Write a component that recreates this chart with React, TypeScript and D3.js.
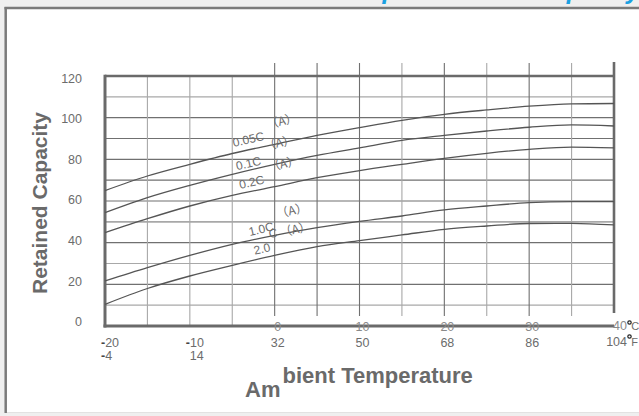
import React from "react";
import * as d3 from "d3";

const temps = [-20, -15, -10, -5, 0, 5, 10, 15, 20, 25, 30, 35, 40];
const c005 = [65, 72, 77.6, 82.8, 87.2, 91.5, 95.2, 98.7, 101.6, 103.7, 105.5, 106.6, 106.8];
const c01 = [54.4, 61.6, 67.5, 72.8, 77.6, 81.9, 85.5, 89.1, 91.5, 93.6, 95.4, 96.5, 96.0];
const c02 = [44.8, 51.5, 57.6, 62.7, 66.9, 71.2, 74.6, 77.6, 80.5, 82.9, 84.8, 85.9, 85.5];
const c10 = [21.6, 28.0, 33.9, 39.2, 43.5, 47.2, 50.2, 52.8, 55.7, 57.6, 59.2, 59.7, 59.7];
const c20 = [10.4, 18.0, 24.0, 29.1, 33.9, 38.1, 41.0, 43.7, 46.4, 48.0, 49.2, 49.3, 48.5];
const seriesList = [c005, c01, c02, c10, c20];

const yTicks = [0, 20, 40, 60, 80, 100, 120];
const hGrid = [10, 20, 30, 40, 50, 60, 70, 80, 90, 100, 110];
const vGrid = [-15, -10, -5, 0, 5, 10, 15, 20, 25, 30, 35];
const celsiusLabels = [-20, -10, 0, 10, 20, 30];
const fahrenheitLabels = [-4, 14, 32, 50, 68, 86];

// curve annotation labels: text, anchor temperature, anchor value
const curveLabels: [string, number, number][] = [
  ["0.05C", -3.1, 89.5],
  ["（A）", 0.8, 99.0],
  ["0.1C", -3.1, 78.0],
  ["（A）", 0.5, 88.5],
  ["0.2C", -2.7, 69.0],
  ["（A）", 1.0, 78.5],
  ["1.0C", -1.6, 46.5],
  ["C", -0.2, 44.5],
  ["（A）", 2.0, 56.0],
  ["（A）", 2.4, 47.0],
  ["2.0", -1.5, 37.0],
];

const GRID_DARK = "#707070";
const GRID_LIGHT = "#a8a8a8";
const TXT = "#6c6c6c";
const FONT = "'Liberation Sans', Arial, sans-serif";

export default function App() {
  const x = d3.scaleLinear().domain([-20, 40]).range([105, 614]);
  const y = d3.scaleLinear().domain([0, 120]).range([326, 76]);
  const yLab = d3.scaleLinear().domain([0, 120]).range([322, 78.3]);

  const line = d3
    .line<number>()
    .x((_, i) => x(temps[i]))
    .y((d) => y(d))
    .curve(d3.curveMonotoneX);

  const lightH = new Set([10, 30, 50, 110]);
  const lightV = new Set([-15, -10, -5, 15, 25, 35]);

  return (
    <svg
      width={639}
      height={416}
      style={{ position: "absolute", left: 0, top: 0, display: "block" }}
      fontFamily={FONT}
    >
      <rect x={0} y={0} width={639} height={416} fill="#efefef" />
      <rect x={6} y={8} width={640} height={405} fill="#ffffff" />
      <line x1={6} y1={412.5} x2={639} y2={412.5} stroke="#e2e2e2" strokeWidth={1} />
      <line x1={4.5} y1={8} x2={639} y2={8} stroke="#7a7a7a" strokeWidth={2.5} />
      <line x1={5.7} y1={7} x2={5.7} y2={413} stroke="#7a7a7a" strokeWidth={2.5} />

      {/* cut-off blue title */}
      <text
        x={331}
        y={-1}
        fill="#1ba1e2"
        fontSize={25.5}
        fontWeight="bold"
        fontStyle="italic"
      >
        Temperature vs. Capacity
      </text>

      {/* horizontal grid */}
      {hGrid.map((v) => (
        <line
          key={"h" + v}
          x1={x(-20)}
          x2={x(40)}
          y1={y(v)}
          y2={y(v)}
          stroke={lightH.has(v) ? GRID_LIGHT : GRID_DARK}
          strokeWidth={v === 50 ? 1.8 : 1.1}
        />
      ))}
      {/* vertical grid */}
      {vGrid.map((t) => (
        <line
          key={"v" + t}
          x1={x(t)}
          x2={x(t)}
          y1={t < 0 ? y(120) : 63}
          y2={t < 0 ? y(0) : 316}
          stroke={lightV.has(t) ? GRID_LIGHT : GRID_DARK}
          strokeWidth={1.1}
        />
      ))}

      {/* frame */}
      <line x1={x(-20)} x2={x(40)} y1={y(120)} y2={y(120)} stroke="#6a6a6a" strokeWidth={2.6} />
      <line x1={x(-20)} x2={x(-20)} y1={y(120) - 1.3} y2={y(0) + 1.5} stroke="#6a6a6a" strokeWidth={3} />
      <line x1={x(-20) - 1.5} x2={x(40)} y1={y(0)} y2={y(0)} stroke="#6a6a6a" strokeWidth={3} />
      <line x1={x(40)} x2={x(40)} y1={62} y2={313} stroke="#6a6a6a" strokeWidth={2.6} />

      {/* curves */}
      {seriesList.map((s, i) => (
        <path key={"c" + i} d={line(s) || ""} fill="none" stroke="#555555" strokeWidth={1.3} />
      ))}

      {/* curve labels */}
      {curveLabels.map(([txt, t, v], i) => (
        <text
          key={"l" + i}
          x={x(t)}
          y={y(v)}
          fill={TXT}
          fontSize={12}
          textAnchor="middle"
          dominantBaseline="central"
          transform={`rotate(-13 ${x(t)} ${y(v)})`}
          fontFamily={txt.includes("（") ? "'Noto Sans CJK SC', sans-serif" : FONT}
        >
          {txt}
        </text>
      ))}

      {/* y tick labels */}
      {yTicks.map((v) => (
        <text key={"y" + v} x={82} y={yLab(v) + 4.3} textAnchor="end" fill={TXT} fontSize={12.5}>
          {v}
        </text>
      ))}

      {/* x labels */}
      {celsiusLabels.map((t, i) => {
        const f = fahrenheitLabels[i];
        if (t < 0) {
          return (
            <g key={"x" + t}>
              <text x={x(t) - 4} y={346.5} fill={TXT} fontSize={12.5}>
                <tspan fontWeight="bold" fill="#444">-</tspan>
                {String(-t)}
              </text>
              <text x={f < 0 ? x(t) - 4 : x(t)} y={360} fill={TXT} fontSize={12.5}>
                {f < 0 ? (
                  <>
                    <tspan fontWeight="bold" fill="#444">-</tspan>
                    {String(-f)}
                  </>
                ) : (
                  String(f)
                )}
              </text>
            </g>
          );
        }
        return (
          <g key={"x" + t}>
            <text x={x(t) + 3} y={331} textAnchor="middle" fill="#8a8a8a" fontSize={12.5}>
              {t}
            </text>
            <text x={x(t) + 3} y={346.5} textAnchor="middle" fill={TXT} fontSize={12.5}>
              {f}
            </text>
          </g>
        );
      })}
      {/* 40 °C / 104 °F */}
      <text x={627} y={330} textAnchor="end" fill="#8a8a8a" fontSize={12.5}>40</text>
      <circle cx={629.5} cy={322.5} r={1.7} fill="none" stroke="#222" strokeWidth={1.2} />
      <text x={631.3} y={330} fill={TXT} fontSize={11}>C</text>
      <text x={627} y={345.5} textAnchor="end" fill={TXT} fontSize={12.5}>104</text>
      <circle cx={629.5} cy={336.5} r={1.7} fill="none" stroke="#222" strokeWidth={1.2} />
      <text x={631.3} y={345.5} fill={TXT} fontSize={11}>F</text>

      {/* axis titles */}
      <text
        x={39}
        y={203}
        transform="rotate(-90 39 203)"
        textAnchor="middle"
        dominantBaseline="central"
        fill="#6a6a6a"
        fontSize={21}
        fontWeight="bold"
      >
        Retained Capacity
      </text>
      <text x={245} y={397} fill="#6a6a6a" fontSize={22} fontWeight="bold">Am</text>
      <text x={282.5} y={382.5} fill="#6a6a6a" fontSize={22} fontWeight="bold">bient Temperature</text>
    </svg>
  );
}
